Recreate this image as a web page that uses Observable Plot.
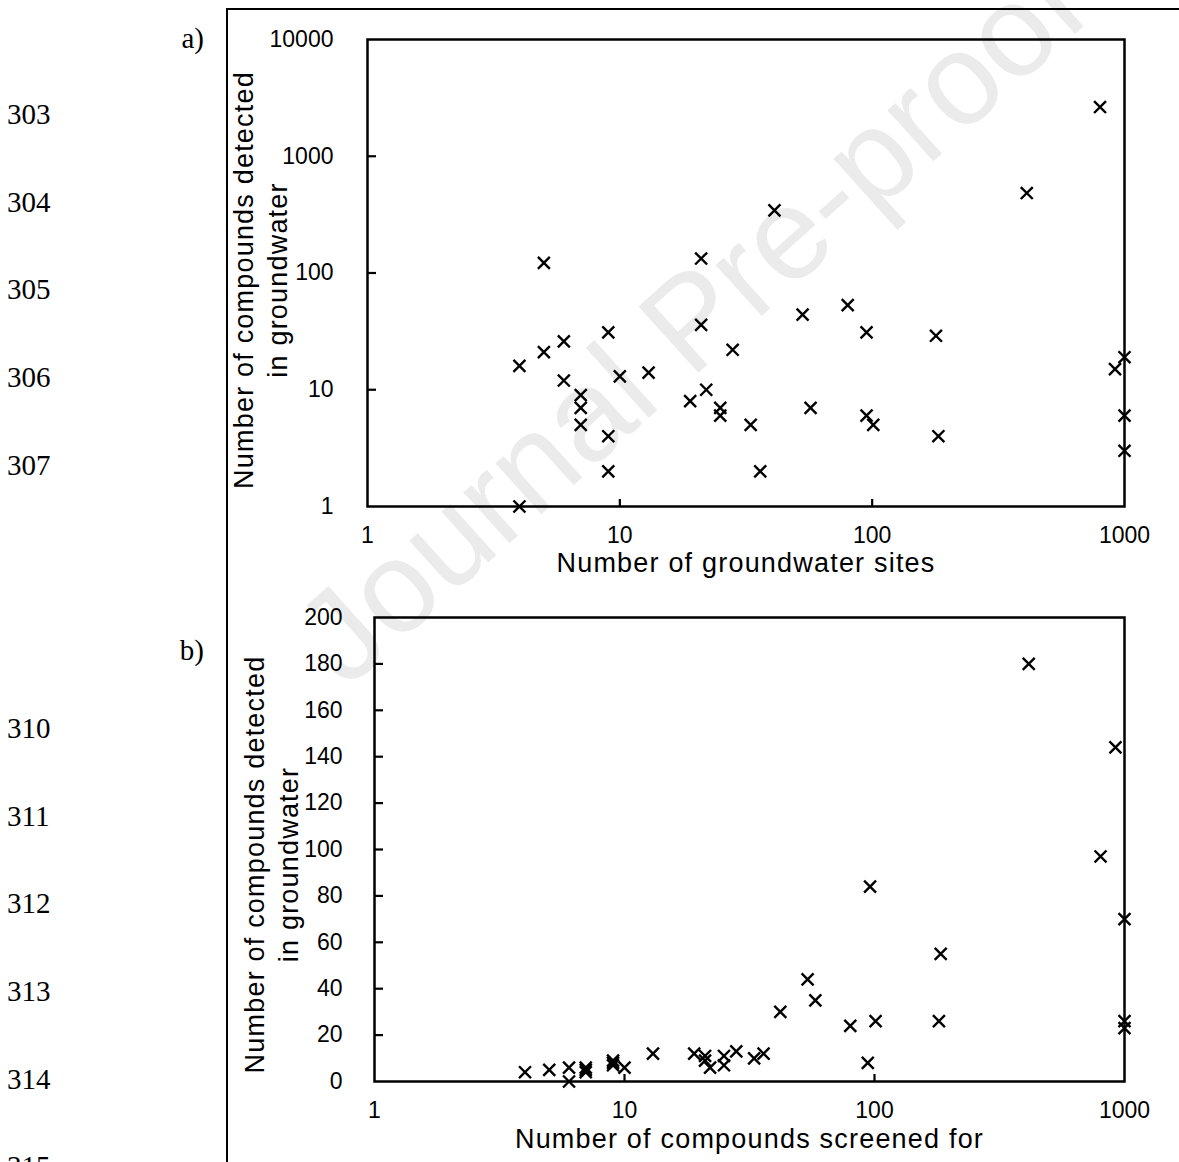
<!DOCTYPE html>
<html>
<head>
<meta charset="utf-8">
<script src="https://cdn.jsdelivr.net/npm/d3@7"></script>
<script src="https://cdn.jsdelivr.net/npm/@observablehq/plot@0.6"></script>
<style>
html, body { margin: 0; padding: 0; background: #fff; }
#page { position: relative; width: 1179px; height: 1162px; overflow: hidden; background: #fff; }
.ln { position: absolute; left: 7px; font: 29px "Liberation Serif", "Times New Roman", serif; line-height: 1; transform: translateY(-50%); color: #000; }
.pl { position: absolute; font: 29px "Liberation Serif", "Times New Roman", serif; line-height: 1; transform: translate(-100%, -50%); color: #000; }
.wm { position: absolute; left: 690px; top: 320px; transform: translate(-50%, -50%) rotate(-42deg); font: 130px "Liberation Sans", Arial, sans-serif; color: #ebebeb; white-space: nowrap; line-height: 1; z-index: 0; }
.vline { position: absolute; left: 225.5px; top: 8px; width: 2px; height: 1154px; background: #000; }
.hline { position: absolute; left: 226px; top: 8px; width: 953px; height: 1.5px; background: #000; }
.panel { position: absolute; left: 0; z-index: 1; }
</style>
</head>
<body>
<div id="page"></div>
<script>
// ---- data ----
const lineNumbers = [303, 304, 305, 306, 307, 310, 311, 312, 313, 314, 315];
const panelLabels = ["a)", "b)"];
const watermark = "Journal Pre-proof";

// Panel a: number of groundwater sites vs number of compounds detected (log-log)
const sitesA = [4, 4, 5, 5, 6, 6, 7, 7, 7, 9, 9, 9, 10, 13, 19, 21, 21, 22, 25, 25, 28, 33, 36, 41, 53, 57, 80, 95, 95, 101, 179, 183, 410, 800, 917, 1000, 1000, 1000];
const detectedA = [16, 1, 21, 122, 26, 12, 9, 7, 5, 31, 4, 2, 13, 14, 8, 36, 133, 10, 7, 6, 22, 5, 2, 344, 44, 7, 53, 31, 6, 5, 29, 4, 484, 2640, 15, 19, 6, 3];

// Panel b: number of compounds screened for vs number of compounds detected (log-linear)
const screenedB = [4, 5, 6, 6, 7, 7, 7, 9, 9, 9, 10, 13, 19, 21, 21, 22, 25, 25, 28, 33, 36, 42, 54, 58, 80, 94, 96, 101, 181, 184, 414, 802, 920, 1000, 1000, 1000];
const detectedB = [4, 5, 6, 0, 6, 5, 4, 9, 8, 7, 6, 12, 12, 11, 9, 6, 11, 7, 13, 10, 12, 30, 44, 35, 24, 8, 84, 26, 26, 55, 180, 97, 144, 70, 26, 23];

const xTicks = [1, 10, 100, 1000];
const yTicksA = [1, 10, 100, 1000, 10000];
const yTicksB = [0, 20, 40, 60, 80, 100, 120, 140, 160, 180, 200];

const xTitleA = "Number of groundwater sites";
const xTitleB = "Number of compounds screened for";
const yTitle = "Number of compounds detected\nin groundwater";

// ---- page decoration ----
const page = document.getElementById("page");
const wm = document.createElement("div");
wm.className = "wm"; wm.textContent = watermark; page.appendChild(wm);
const vl = document.createElement("div"); vl.className = "vline"; page.appendChild(vl);
const hl = document.createElement("div"); hl.className = "hline"; page.appendChild(hl);
lineNumbers.forEach(n => {
  const d = document.createElement("div");
  d.className = "ln"; d.textContent = String(n);
  d.style.top = (114 + (n - 303) * 87.7) + "px";
  page.appendChild(d);
});
const labelTops = [38, 650];
panelLabels.forEach((t, i) => {
  const d = document.createElement("div");
  d.className = "pl"; d.textContent = t;
  d.style.left = "204px"; d.style.top = labelTops[i] + "px";
  page.appendChild(d);
});

const font = '"Liberation Sans", Arial, sans-serif';
const tableA = sitesA.map((x, i) => ({x, y: detectedA[i]}));
const tableB = screenedB.map((x, i) => ({x, y: detectedB[i]}));

function spaceTitles(svg) {
  svg.querySelectorAll('g[font-size="27"]').forEach(g => g.setAttribute("letter-spacing", "1.2"));
  return svg;
}

// ---- panel a ----
const mA = {left: 367, right: 55, top: 39, bottom: 84};
const hA = 590;
const plotA = Plot.plot({
  width: 1179, height: hA,
  marginLeft: mA.left, marginRight: mA.right, marginTop: mA.top, marginBottom: mA.bottom,
  style: {background: "none", fontFamily: font, fontSize: "23px", color: "#000", overflow: "visible"},
  x: {type: "log", domain: [1, 1000]},
  y: {type: "log", domain: [1, 10000]},
  marks: [
    Plot.tickY(yTicksA.filter(d => d > 1 && d < 10000), {y: d => d, stroke: "black", strokeWidth: 2.2, insetRight: 1179 - mA.left - mA.right - 9}),
    Plot.tickX(xTicks.filter(d => d > 1 && d < 1000), {x: d => d, stroke: "black", strokeWidth: 2.2, insetTop: hA - mA.top - mA.bottom - 7}),
    Plot.frame({stroke: "black", strokeWidth: 2.5}),
    Plot.axisY({ticks: yTicksA, tickSize: 0, tickPadding: 34, tickFormat: d => String(d), label: null}),
    Plot.axisX({ticks: xTicks, tickSize: 0, tickPadding: 20, tickFormat: d => String(d), label: null}),
    Plot.dot(tableA, {x: "x", y: "y", symbol: "times", r: 5.5, stroke: "black", strokeWidth: 2.4}),
    Plot.text([xTitleA], {text: d => d, frameAnchor: "bottom", dy: 57, fontSize: 27, lineAnchor: "middle"}),
    Plot.text([yTitle], {text: d => d, frameAnchor: "left", rotate: -90, dx: -108, dy: 7, fontSize: 27, lineHeight: 1.25, lineAnchor: "middle", textAnchor: "middle"})
  ]
});
spaceTitles(plotA);
plotA.classList.add("panel");
plotA.style.top = "0px";
plotA.style.position = "absolute";
page.appendChild(plotA);

// ---- panel b ----
const mB = {left: 374, right: 55, top: 27, bottom: 81};
const hB = 572;
const plotB = Plot.plot({
  width: 1179, height: hB,
  marginLeft: mB.left, marginRight: mB.right, marginTop: mB.top, marginBottom: mB.bottom,
  style: {background: "none", fontFamily: font, fontSize: "23px", color: "#000", overflow: "visible"},
  x: {type: "log", domain: [1, 1000]},
  y: {type: "linear", domain: [0, 200]},
  marks: [
    Plot.tickY(yTicksB.filter(d => d > 0 && d < 200), {y: d => d, stroke: "black", strokeWidth: 2.2, insetRight: 1179 - mB.left - mB.right - 9}),
    Plot.tickX(xTicks.filter(d => d > 1 && d < 1000), {x: d => d, stroke: "black", strokeWidth: 2.2, insetTop: hB - mB.top - mB.bottom - 7}),
    Plot.frame({stroke: "black", strokeWidth: 2.5}),
    Plot.axisY({ticks: yTicksB, tickSize: 0, tickPadding: 32, tickFormat: d => String(d), label: null}),
    Plot.axisX({ticks: xTicks, tickSize: 0, tickPadding: 20, tickFormat: d => String(d), label: null}),
    Plot.dot(tableB, {x: "x", y: "y", symbol: "times", r: 5.5, stroke: "black", strokeWidth: 2.4}),
    Plot.text([xTitleB], {text: d => d, frameAnchor: "bottom", dy: 58, fontSize: 27, lineAnchor: "middle"}),
    Plot.text([yTitle], {text: d => d, frameAnchor: "left", rotate: -90, dx: -104, dy: 15, fontSize: 27, lineHeight: 1.25, lineAnchor: "middle", textAnchor: "middle"})
  ]
});
spaceTitles(plotB);
plotB.classList.add("panel");
plotB.style.top = "590px";
plotB.style.position = "absolute";
page.appendChild(plotB);
</script>
</body>
</html>
